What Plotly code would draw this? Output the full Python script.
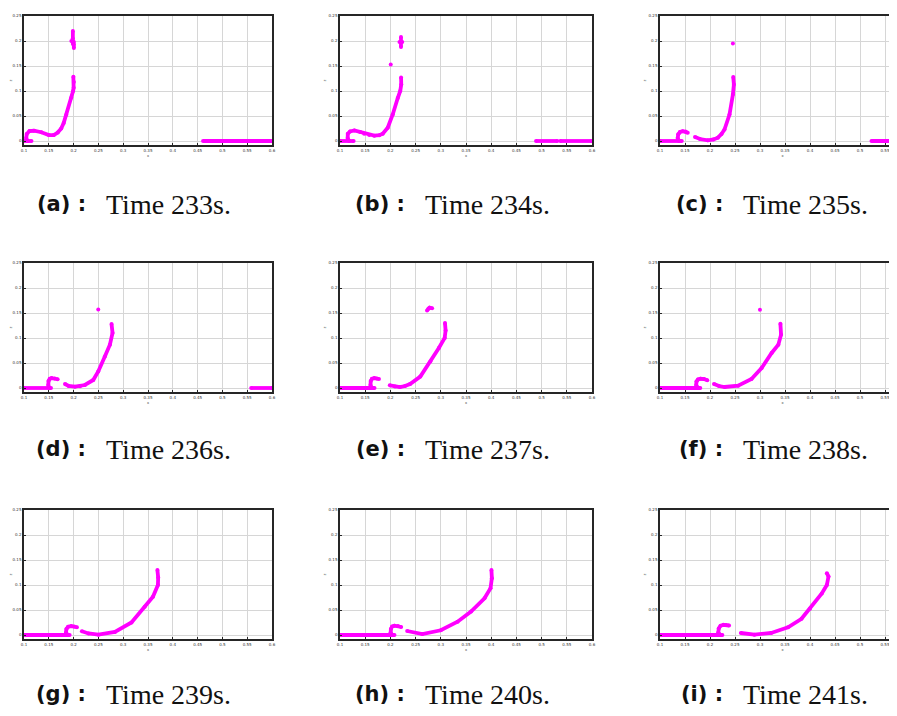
import plotly.graph_objects as go

N = None
# ---- data: (x, z) points per panel, segments separated by None ----
a_x = [0.1, 0.115, N, 0.107, 0.1045, 0.1055, 0.111, 0.12, 0.135, 0.15, 0.16, 0.168, 0.175, 0.18, 0.1853, 0.1954, 0.199, 0.2001, 0.2005, 0.1995, N,
       0.1985, 0.1983, 0.1985, N, 0.1955, 0.2005, N, 0.2005, 0.2005, N, 0.461, 0.6]
a_z = [0, 0, N, 0.0, 0.006, 0.014, 0.020, 0.0205, 0.0175, 0.0118, 0.012, 0.017, 0.025, 0.036, 0.0526, 0.0863, 0.1, 0.1065, 0.118, 0.1287, N,
       0.22, 0.205, 0.194, N, 0.2, 0.198, N, 0.194, 0.186, N, 0, 0]

b_x = [0.1, 0.127, N, 0.118, 0.1152, 0.1155, 0.12, 0.1285, 0.14, 0.148, 0.158, 0.168, 0.178, 0.1848, 0.1947, 0.2046, 0.2146, 0.2195, 0.2215, 0.2212, N,
       0.2007, N, 0.221, 0.221, N, 0.218, 0.2235, N, 0.489, 0.531, N, 0.537, 0.599]
b_z = [0, 0, N, 0, 0.006, 0.0145, 0.019, 0.021, 0.018, 0.0146, 0.012, 0.0106, 0.0115, 0.0145, 0.0265, 0.053, 0.086, 0.1, 0.113, 0.127, N,
       0.153, N, 0.208, 0.188, N, 0.198, 0.198, N, 0, 0, N, 0, 0]

c_x = [0.1, 0.1435, N, 0.138, 0.1354, 0.1365, 0.140, 0.1455, 0.151, 0.1555, N,
       0.170, 0.18, 0.1956, 0.207, 0.2157, 0.223, 0.229, 0.239, 0.2458, 0.2478, 0.2465, N, 0.2458, N, 0.523, 0.6]
c_z = [0, 0, N, 0, 0.006, 0.0135, 0.018, 0.0195, 0.019, 0.0167, N,
       0.008, 0.004, 0.0013, 0.003, 0.0067, 0.014, 0.023, 0.053, 0.093, 0.113, 0.128, N, 0.195, N, 0, 0]

d_x = [0.1, 0.1544, N, 0.151, 0.149, 0.1495, 0.152, 0.1557, 0.162, 0.1678, N,
       0.1826, 0.19, 0.2027, 0.213, 0.2228, 0.2396, 0.2497, 0.263, 0.2732, 0.2785, 0.2765, N, 0.2497, N, 0.558, 0.6]
d_z = [0, 0, N, 0, 0.006, 0.014, 0.0185, 0.0198, 0.019, 0.0175, N,
       0.008, 0.004, 0.0027, 0.0035, 0.006, 0.016, 0.033, 0.063, 0.0867, 0.110, 0.128, N, 0.157, N, 0, 0]

e_x = [0.1, 0.1685, N, 0.163, 0.1605, 0.161, 0.1635, 0.168, 0.173, 0.1773, N,
       0.1988, 0.209, 0.219, 0.229, 0.239, 0.2593, 0.2794, 0.2962, 0.3077, 0.3095, 0.3083, N, 0.2727, 0.2755, 0.278, 0.2828]
e_z = [0, 0, N, 0, 0.006, 0.014, 0.0185, 0.0198, 0.019, 0.018, N,
       0.0054, 0.003, 0.002, 0.004, 0.008, 0.0228, 0.053, 0.080, 0.100, 0.115, 0.130, N, 0.155, 0.159, 0.1606, 0.1595]

f_x = [0.1, 0.1805, N, 0.176, 0.1724, 0.173, 0.176, 0.1811, 0.188, 0.1946, N,
       0.208, 0.218, 0.2294, 0.2563, 0.283, 0.3032, 0.3233, 0.3367, 0.3421, 0.3408, N, 0.2999]
f_z = [0, 0, N, 0, 0.006, 0.013, 0.017, 0.0185, 0.018, 0.0153, N,
       0.008, 0.004, 0.002, 0.0047, 0.018, 0.040, 0.070, 0.0867, 0.1067, 0.1287, N, 0.1567]

g_x = [0.1, 0.192, N, 0.188, 0.1847, 0.1855, 0.189, 0.1953, 0.201, 0.2067, N,
       0.2167, 0.23, 0.25, 0.2833, 0.3167, 0.3433, 0.36, 0.37, 0.3705, 0.369]
g_z = [0, 0, N, 0, 0.005, 0.012, 0.0165, 0.0178, 0.017, 0.0155, N,
       0.0074, 0.003, 0.0007, 0.006, 0.025, 0.0565, 0.0766, 0.100, 0.115, 0.130]

h_x = [0.1, 0.208, N, 0.204, 0.2005, 0.201, 0.2035, 0.208, 0.215, 0.2213, N,
       0.2333, 0.2633, 0.3, 0.3333, 0.36, 0.3867, 0.3987, 0.4013, 0.4005]
h_z = [0, 0, N, 0, 0.005, 0.012, 0.017, 0.0187, 0.0178, 0.016, N,
       0.008, 0.002, 0.0094, 0.0267, 0.0468, 0.0735, 0.0936, 0.1136, 0.130]

i_x = [0.1, 0.2247, N, 0.2205, 0.2166, 0.2175, 0.221, 0.2267, 0.232, 0.2381, N,
       0.2617, 0.2887, 0.3224, 0.3561, 0.383, 0.4, 0.4236, 0.4337, 0.437, 0.4337]
i_z = [0, 0, N, 0, 0.005, 0.013, 0.0185, 0.0203, 0.020, 0.019, N,
       0.004, 0.0007, 0.004, 0.0155, 0.0324, 0.0527, 0.083, 0.100, 0.117, 0.1236]

panel_x = [a_x, b_x, c_x, d_x, e_x, f_x, g_x, h_x, i_x]
panel_z = [a_z, b_z, c_z, d_z, e_z, f_z, g_z, h_z, i_z]
panel_letters = ["a", "b", "c", "d", "e", "f", "g", "h", "i"]
panel_times = [233, 234, 235, 236, 237, 238, 239, 240, 241]

x_ticks = [0.1, 0.15, 0.2, 0.25, 0.3, 0.35, 0.4, 0.45, 0.5, 0.55, 0.6]
x_tick_text = ["0.1", "0.15", "0.2", "0.25", "0.3", "0.35", "0.4", "0.45", "0.5", "0.55", "0.6"]
z_ticks = [0, 0.05, 0.1, 0.15, 0.2, 0.25]
z_tick_text = ["0", "0.05", "0.1", "0.15", "0.2", "0.25"]

# ---- layout geometry ----
W, H = 897, 716
col_px = [(16, 264), (332, 584), (652, 897)]
col_xmax = [0.6, 0.6, 0.59]
row_px = [(8, 137), (255, 384), (502, 631)]
caption_y = [196, 441, 686]
caption_split = [97, 416, 734]

fig = go.Figure()
annotations = []
for k in range(9):
    r, c = divmod(k, 3)
    ax = "" if k == 0 else str(k + 1)
    fig.add_trace(go.Scatter(
        x=panel_x[k], y=panel_z[k], mode="lines+markers",
        line=dict(color="#ff00ff", width=3.8),
        marker=dict(color="#ff00ff", size=4),
        connectgaps=False, showlegend=False, hoverinfo="skip",
        xaxis="x" + ax, yaxis="y" + ax))
    axis_common = dict(
        showline=True, linecolor="#262626", linewidth=1.5,
        showgrid=True, gridcolor="#d6d6d6", gridwidth=1, zeroline=False,
        ticks="inside", ticklen=2, tickcolor="#262626",
        tickfont=dict(size=4, color="#333333", family="DejaVu Sans"),
        automargin=False)
    fig.update_layout(**{
        "xaxis" + ax: dict(
            domain=[col_px[c][0] / W, col_px[c][1] / W],
            range=[0.1, col_xmax[c]], tickvals=x_ticks, ticktext=x_tick_text,
            anchor="y" + ax, mirror=True,
            title=dict(text="x", font=dict(size=4, color="#333333"), standoff=2),
            **axis_common),
        "yaxis" + ax: dict(
            domain=[1 - row_px[r][1] / H, 1 - row_px[r][0] / H],
            range=[-0.008, 0.25], tickvals=z_ticks, ticktext=z_tick_text,
            anchor="x" + ax, mirror=(c < 2),
            title=dict(text="z", font=dict(size=4, color="#333333"), standoff=2),
            **axis_common),
    })
    annotations.append(dict(
        text="<b>(%s) :</b>" % panel_letters[k], xref="paper", yref="paper",
        x=(caption_split[c] - 17) / W, y=1 - caption_y[r] / H,
        xanchor="right", yanchor="middle", showarrow=False,
        font=dict(family="DejaVu Sans", size=21, color="#111111")))
    annotations.append(dict(
        text="Time %ds." % panel_times[k], xref="paper", yref="paper",
        x=(caption_split[c] - 1) / W, y=1 - caption_y[r] / H,
        xanchor="left", yanchor="middle", showarrow=False,
        font=dict(family="Liberation Serif", size=28, color="#111111")))

fig.update_layout(
    width=W, height=H, margin=dict(l=0, r=0, t=0, b=0),
    paper_bgcolor="white", plot_bgcolor="white",
    annotations=annotations)

fig.write_html("out.html")
